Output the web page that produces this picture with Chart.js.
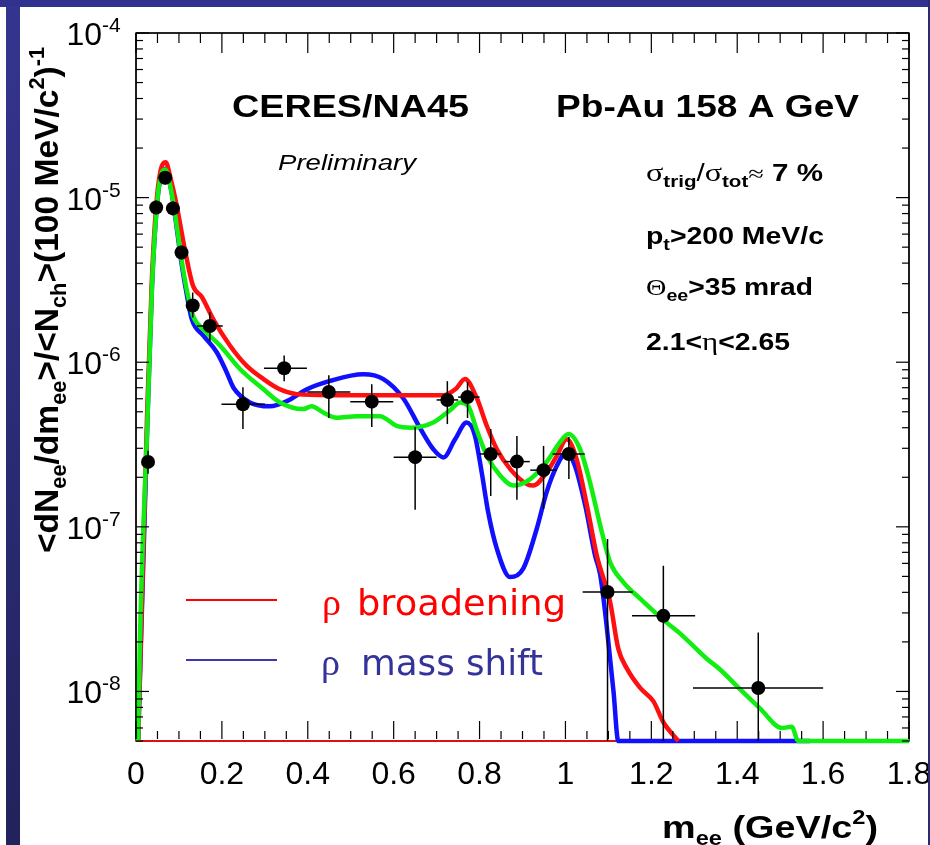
<!DOCTYPE html>
<html>
<head>
<meta charset="utf-8">
<script src="https://cdn.jsdelivr.net/npm/chart.js@4.4.1/dist/chart.umd.min.js"></script>
<style>
  html, body { margin: 0; padding: 0; background: #fff; overflow: hidden; }
  canvas { display: block; }
</style>
</head>
<body>
<canvas id="spectrum" width="930" height="845"></canvas>
<script>
// axis ranges and tick labels
const xMin = 0, xMax = 1.8;
const yMin = 5e-9, yMax = 1e-4;
const xTickVals = [0, 0.2, 0.4, 0.6, 0.8, 1.0, 1.2, 1.4, 1.6, 1.8];
const xTickLabels = ["0", "0.2", "0.4", "0.6", "0.8", "1", "1.2", "1.4", "1.6", "1.8"];
const yTickExps = [-4, -5, -6, -7, -8];

// measured e+e- pairs (points with error bars)
const dataX   = [0.028, 0.047, 0.068, 0.086, 0.106, 0.132, 0.172, 0.249, 0.345, 0.449, 0.549, 0.650, 0.725, 0.772, 0.826, 0.887, 0.949, 1.008, 1.098, 1.228, 1.449];
const dataY   = [2.48e-7, 8.7e-6, 1.32e-5, 8.6e-6, 4.64e-6, 2.21e-6, 1.66e-6, 5.55e-7, 9.2e-7, 6.6e-7, 5.76e-7, 2.65e-7, 5.9e-7, 6.14e-7, 2.77e-7, 2.49e-7, 2.21e-7, 2.77e-7, 4.02e-8, 2.88e-8, 1.05e-8];
const dataXLo = [0.018, 0.037, 0.058, 0.076, 0.096, 0.117, 0.142, 0.199, 0.298, 0.399, 0.499, 0.600, 0.700, 0.750, 0.800, 0.857, 0.918, 0.970, 1.040, 1.155, 1.297];
const dataXHi = [0.038, 0.057, 0.078, 0.096, 0.116, 0.147, 0.202, 0.300, 0.398, 0.499, 0.599, 0.700, 0.750, 0.800, 0.850, 0.917, 0.980, 1.045, 1.157, 1.302, 1.600];
const dataYLo = [2.1e-7, 7.9e-6, 1.2e-5, 7.8e-6, 4.2e-6, 1.87e-6, 1.34e-6, 3.93e-7, 7.67e-7, 4.58e-7, 4.04e-7, 1.27e-7, 4.21e-7, 4.58e-7, 1.54e-7, 1.46e-7, 1.29e-7, 1.95e-7, 1e-9, 1e-9, 1e-9];
const dataYHi = [2.9e-7, 9.6e-6, 1.45e-5, 9.5e-6, 5.1e-6, 2.65e-6, 2.01e-6, 7.05e-7, 1.1e-6, 8.34e-7, 7.36e-7, 4.04e-7, 7.67e-7, 7.57e-7, 3.93e-7, 3.56e-7, 3.1e-7, 3.51e-7, 8.45e-8, 5.8e-8, 2.28e-8];

// rho broadening
const broadX = [0.005, 0.026, 0.037, 0.047, 0.057, 0.069, 0.082, 0.095, 0.114, 0.133, 0.153, 0.180, 0.219, 0.258, 0.297, 0.335, 0.374, 0.450, 0.550, 0.650, 0.715, 0.745, 0.766, 0.793, 0.817, 0.840, 0.871, 0.910, 0.925, 0.956, 0.980, 1.003, 1.026, 1.050, 1.073, 1.104, 1.123, 1.143, 1.174, 1.205, 1.228, 1.263];
const broadY = [5e-9, 5.0e-7, 3.2e-6, 8.9e-6, 1.45e-5, 1.64e-5, 1.26e-5, 8.9e-6, 4.8e-6, 2.9e-6, 2.5e-6, 1.82e-6, 1.26e-6, 9.5e-7, 7.9e-7, 6.85e-7, 6.4e-7, 6.3e-7, 6.3e-7, 6.3e-7, 6.3e-7, 6.9e-7, 7.9e-7, 6.1e-7, 4.1e-7, 2.97e-7, 2.25e-7, 1.82e-7, 1.78e-7, 2.14e-7, 2.7e-7, 3.4e-7, 2.58e-7, 1.35e-7, 6.7e-8, 3.5e-8, 1.82e-8, 1.38e-8, 1.05e-8, 8.7e-9, 6.5e-9, 5e-9];
const broadFloorX = [0, 1.263];
const broadFloorY = [5e-9, 5e-9];

// rho mass shift
const shiftX = [0.005, 0.026, 0.037, 0.047, 0.056, 0.068, 0.083, 0.095, 0.106, 0.118, 0.130, 0.157, 0.188, 0.211, 0.227, 0.265, 0.312, 0.351, 0.398, 0.452, 0.529, 0.576, 0.623, 0.661, 0.692, 0.716, 0.743, 0.770, 0.789, 0.805, 0.820, 0.840, 0.871, 0.902, 0.933, 0.956, 0.980, 1.003, 1.022, 1.046, 1.069, 1.081, 1.096, 1.112, 1.123, 1.570];
const shiftY = [5e-9, 3.9e-7, 2.8e-6, 7.9e-6, 1.28e-5, 1.5e-5, 1.07e-5, 6.5e-6, 4.0e-6, 2.6e-6, 1.82e-6, 1.45e-6, 1.15e-6, 8.7e-7, 7.0e-7, 5.7e-7, 5.4e-7, 5.8e-7, 6.85e-7, 7.7e-7, 8.45e-7, 7.9e-7, 6.0e-7, 4.0e-7, 2.97e-7, 2.64e-7, 3.4e-7, 4.3e-7, 3.6e-7, 2.14e-7, 1.23e-7, 7.4e-8, 4.95e-8, 5.6e-8, 9.7e-8, 1.62e-7, 2.35e-7, 2.84e-7, 2.35e-7, 1.35e-7, 6.7e-8, 5.1e-8, 2.5e-8, 9.95e-9, 5e-9, 5e-9];

// green curve
const greenX = [0.005, 0.009, 0.026, 0.037, 0.047, 0.056, 0.068, 0.083, 0.095, 0.106, 0.118, 0.133, 0.157, 0.196, 0.242, 0.297, 0.335, 0.390, 0.409, 0.436, 0.467, 0.514, 0.568, 0.607, 0.640, 0.692, 0.731, 0.755, 0.774, 0.793, 0.817, 0.848, 0.879, 0.918, 0.956, 0.987, 1.007, 1.034, 1.057, 1.081, 1.104, 1.135, 1.174, 1.228, 1.271, 1.329, 1.360, 1.407, 1.453, 1.504, 1.527, 1.542, 1.800];
const greenY = [5e-9, 2e-8, 3.9e-7, 2.77e-6, 7.9e-6, 1.29e-5, 1.48e-5, 1.07e-5, 6.7e-6, 4.2e-6, 2.77e-6, 1.91e-6, 1.58e-6, 1.26e-6, 9.1e-7, 6.85e-7, 5.7e-7, 5.2e-7, 5.4e-7, 4.95e-7, 4.6e-7, 4.7e-7, 4.7e-7, 4.1e-7, 4.0e-7, 4.3e-7, 5.1e-7, 5.7e-7, 5.4e-7, 3.9e-7, 2.7e-7, 2.05e-7, 1.78e-7, 1.95e-7, 2.47e-7, 3.26e-7, 3.66e-7, 2.97e-7, 1.87e-7, 1.02e-7, 6.1e-8, 4.6e-8, 3.66e-8, 2.72e-8, 2.2e-8, 1.58e-8, 1.36e-8, 1.03e-8, 7.9e-9, 6.0e-9, 6.1e-9, 5e-9, 5e-9];

const SANS = '"Liberation Sans", Arial, Helvetica, sans-serif';
const SERIF = '"Liberation Serif", "DejaVu Serif", serif';
const LEG = '"DejaVu Sans", Verdana, sans-serif';
const bold = n => `bold ${n}px ${SANS}`;
const plain = n => `${n}px ${SANS}`;
const sym = n => `${n}px ${SERIF}`;

const pts = (xs, ys) => xs.map((x, i) => ({ x: x, y: ys[i] }));

function richWidth(ctx, parts) {
  let w = 0;
  for (const p of parts) { ctx.font = p.font; w += ctx.measureText(p.text).width; }
  return w;
}

// draws a run of text pieces (sub/superscripts via dy), optionally squeezed to a width
function drawRich(ctx, parts, x, y, width, color) {
  ctx.save();
  ctx.translate(x, y);
  if (width) ctx.scale(width / richWidth(ctx, parts), 1);
  ctx.fillStyle = color || "#000";
  ctx.textAlign = "left";
  ctx.textBaseline = "alphabetic";
  let cx = 0;
  for (const p of parts) {
    ctx.font = p.font;
    ctx.fillText(p.text, cx, p.dy || 0);
    cx += ctx.measureText(p.text).width;
  }
  ctx.restore();
}

function seg(ctx, x1, y1, x2, y2) {
  ctx.beginPath();
  ctx.moveTo(x1, y1);
  ctx.lineTo(x2, y2);
  ctx.stroke();
}

const frame = {
  id: "frame",
  beforeDraw(chart) {
    const ctx = chart.ctx;
    ctx.save();
    ctx.fillStyle = "#fff";
    ctx.fillRect(0, 0, chart.width, chart.height);
    ctx.restore();
  },
  // frame box goes under the curves
  beforeDatasetsDraw(chart) {
    const ctx = chart.ctx, a = chart.chartArea;
    ctx.save();
    ctx.strokeStyle = "#000";
    ctx.lineWidth = 1.4;
    ctx.strokeRect(a.left, a.top, a.right - a.left, a.bottom - a.top);
    ctx.restore();
  },
  // error bars sit under the markers but over the model curves
  beforeDatasetDraw(chart, args) {
    if (args.index !== 0) return;
    const ctx = chart.ctx, xs = chart.scales.x, ys = chart.scales.y, a = chart.chartArea;
    ctx.save();
    ctx.beginPath();
    ctx.rect(a.left, a.top, a.right - a.left, a.bottom - a.top);
    ctx.clip();
    ctx.strokeStyle = "#000";
    ctx.lineWidth = 1.5;
    dataX.forEach((x, i) => {
      const px = xs.getPixelForValue(x), py = ys.getPixelForValue(dataY[i]);
      seg(ctx, xs.getPixelForValue(dataXLo[i]), py, xs.getPixelForValue(dataXHi[i]), py);
      seg(ctx, px, ys.getPixelForValue(dataYLo[i]), px, ys.getPixelForValue(dataYHi[i]));
    });
    ctx.restore();
  },
  afterDatasetsDraw(chart) {
    const ctx = chart.ctx, xs = chart.scales.x, ys = chart.scales.y, a = chart.chartArea;
    ctx.save();
    ctx.strokeStyle = "#000";
    ctx.lineWidth = 1.2;
    // x ticks, inward on bottom and top
    for (let i = 0; i <= 36; i++) {
      const px = xs.getPixelForValue(xMin + i * 0.05);
      const len = i % 4 === 0 ? 20 : 10;
      seg(ctx, px, a.bottom - 2, px, a.bottom - len);
      seg(ctx, px, a.top, px, a.top + len);
    }
    // y ticks, decades and 2..9
    for (let e = -9; e <= -4; e++) {
      for (let k = 1; k <= 9; k++) {
        const v = k * Math.pow(10, e);
        if (v < yMin || v > yMax * 1.0001) continue;
        const py = ys.getPixelForValue(v);
        const len = k === 1 ? 13 : 7;
        seg(ctx, a.left, py, a.left + len, py);
        seg(ctx, a.right, py, a.right - len, py);
      }
    }
    seg(ctx, a.left, a.top, a.left, a.bottom - 2);
    seg(ctx, a.right, a.top, a.right, a.bottom - 2);
    seg(ctx, a.left, a.top, a.right, a.top);
    ctx.restore();
  },
  afterDraw(chart) {
    const ctx = chart.ctx, xs = chart.scales.x, ys = chart.scales.y, a = chart.chartArea;
    ctx.save();
    ctx.fillStyle = "#000";

    // tick labels
    ctx.font = plain(32);
    ctx.textAlign = "center";
    ctx.textBaseline = "alphabetic";
    xTickVals.forEach((v, i) => ctx.fillText(xTickLabels[i], xs.getPixelForValue(v), a.bottom + 43));
    yTickExps.forEach(e => {
      const py = ys.getPixelForValue(Math.pow(10, e));
      ctx.font = plain(32);
      ctx.textAlign = "right";
      ctx.fillText("10", 102, py + 12);
      ctx.font = plain(21);
      ctx.textAlign = "left";
      ctx.fillText(String(e), 102, py - 1);
    });

    // axis titles
    drawRich(ctx, [
      { text: "m", font: bold(32) },
      { text: "ee", font: bold(20), dy: 7 },
      { text: " (GeV/c", font: bold(32) },
      { text: "2", font: bold(20), dy: -14 },
      { text: ")", font: bold(32) }
    ], 662, 838, 216);
    ctx.save();
    ctx.translate(58, 553);
    ctx.rotate(-Math.PI / 2);
    drawRich(ctx, [
      { text: "<dN", font: bold(34) },
      { text: "ee", font: bold(22), dy: 8 },
      { text: "/dm", font: bold(34) },
      { text: "ee", font: bold(22), dy: 8 },
      { text: ">/<N", font: bold(34) },
      { text: "ch", font: bold(22), dy: 8 },
      { text: ">(100 MeV/c", font: bold(34) },
      { text: "2", font: bold(22), dy: -14 },
      { text: ")", font: bold(34) },
      { text: "-1", font: bold(22), dy: -14 }
    ], 0, 0, 506);
    ctx.restore();

    // experiment labels
    drawRich(ctx, [{ text: "CERES/NA45", font: bold(32) }], 232, 117, 237);
    drawRich(ctx, [{ text: "Pb-Au 158 A GeV", font: bold(32) }], 556, 117, 303);
    drawRich(ctx, [{ text: "Preliminary", font: `italic 22px ${SANS}` }], 278, 170, 138);

    // cuts
    drawRich(ctx, [
      { text: "σ", font: sym(25) },
      { text: "trig", font: bold(16), dy: 6 },
      { text: "/", font: plain(23) },
      { text: "σ", font: sym(25) },
      { text: "tot", font: bold(16), dy: 6 },
      { text: "≈", font: sym(22) },
      { text: " 7 %", font: bold(23) }
    ], 646, 181, 177);
    drawRich(ctx, [
      { text: "p", font: bold(23) },
      { text: "t", font: bold(16), dy: 6 },
      { text: ">200 MeV/c", font: bold(23) }
    ], 646, 244, 178);
    drawRich(ctx, [
      { text: "Θ", font: sym(23) },
      { text: "ee", font: bold(16), dy: 6 },
      { text: ">35 mrad", font: bold(23) }
    ], 646, 295, 167);
    drawRich(ctx, [
      { text: "2.1<", font: bold(23) },
      { text: "η", font: sym(25) },
      { text: "<2.65", font: bold(23) }
    ], 646, 350, 144);

    // legend
    ctx.lineWidth = 2;
    ctx.strokeStyle = "#ff0000";
    seg(ctx, 186, 600, 277, 600);
    ctx.strokeStyle = "#3a3aa8";
    seg(ctx, 186, 660, 277, 660);
    ctx.textAlign = "left";
    ctx.font = sym(38);
    ctx.fillStyle = "#ff0000";
    ctx.fillText("ρ", 322, 615);
    ctx.fillStyle = "#33339a";
    ctx.fillText("ρ", 321, 675);
    drawRich(ctx, [{ text: "broadening", font: `36px ${LEG}` }], 357, 615, 209, "#ff0000");
    drawRich(ctx, [{ text: "mass shift", font: `36px ${LEG}` }], 361, 675, 182, "#33339a");

    // slide border
    const g = ctx.createLinearGradient(0, 0, 0, chart.height);
    g.addColorStop(0, "#34358f");
    g.addColorStop(1, "#22225c");
    ctx.fillStyle = g;
    ctx.fillRect(6, 0, 14, chart.height);
    ctx.fillStyle = "#31328f";
    ctx.fillRect(0, 0, chart.width, 7);
    ctx.fillStyle = "#2a2a70";
    ctx.fillRect(928, 0, 2, chart.height);
    ctx.restore();
  }
};

const curve = (label, xs, ys, color, width) => ({
  label: label,
  data: pts(xs, ys),
  showLine: true,
  borderColor: color,
  borderWidth: width,
  pointRadius: 0,
  cubicInterpolationMode: "monotone",
  clip: 4
});

new Chart(document.getElementById("spectrum"), {
  type: "scatter",
  data: {
    datasets: [
      {
        label: "CERES/NA45",
        data: pts(dataX, dataY),
        pointRadius: 7,
        pointBackgroundColor: "#000",
        pointBorderWidth: 0,
        showLine: false
      },
      curve("green", greenX, greenY, "#11ee11", 4.5),
      curve("ρ broadening", broadX, broadY, "#ff1010", 4.5),
      curve("ρ mass shift", shiftX, shiftY, "#1010ff", 4.5),
      curve("floor", broadFloorX, broadFloorY, "#dd1010", 2)
    ]
  },
  options: {
    responsive: false,
    animation: false,
    devicePixelRatio: 1,
    layout: { padding: { left: 136, top: 33, right: 21, bottom: 104 } },
    scales: {
      x: { type: "linear", min: xMin, max: xMax, display: false },
      y: { type: "logarithmic", min: yMin, max: yMax, display: false }
    },
    plugins: {
      legend: { display: false },
      tooltip: { enabled: false }
    }
  },
  plugins: [frame]
});
</script>
</body>
</html>
